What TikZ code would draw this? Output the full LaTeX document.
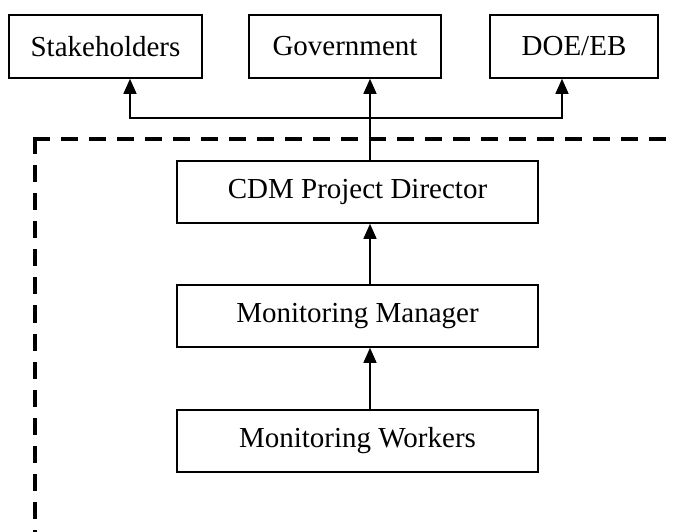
\documentclass[tikz,border=0pt]{standalone}
\usepackage{fontspec}
\setmainfont{Liberation Serif}
\usepackage{tikz}
\usetikzlibrary{arrows.meta, positioning}

\begin{document}
\begin{tikzpicture}[x=1pt, y=-1pt,
  box/.style={draw, line width=1.6pt, inner sep=0pt, font=\fontsize{29}{34}\selectfont},
  arr/.style={line width=1.3pt, -{Triangle[width=13pt,length=15pt]}},
  frame/.style={line width=4pt, line cap=rect, dash pattern=on 13pt off 15pt}]
\useasboundingbox (0,0) rectangle (673,532);

\draw[frame] (34.5,139.5) -- (675,139.5);
\draw[frame] (34.5,139.5) -- (34.5,534);

\node[box, minimum width=193pt, minimum height=63pt] (stake) at (105.5,46.5) {Stakeholders};
\node[box, minimum width=192pt, minimum height=63pt] (gov) at (345,46.5) {Government};
\node[box, minimum width=168pt, minimum height=63pt] (doe) at (574,46.5) {DOE/EB};

\node[box, minimum width=361pt, minimum height=62pt] (director) at (357.5,192) {CDM Project Director};
\node[box, minimum width=361pt, minimum height=62pt] (manager) at (357.5,316) {Monitoring Manager};
\node[box, minimum width=361pt, minimum height=62pt] (workers) at (357.5,441) {Monitoring Workers};

\coordinate (spine) at (370,118);
\coordinate (left) at (130,118);
\coordinate (right) at (562,118);

\draw[arr] (director.north -| spine) -- (gov.south -| spine);
\draw[arr] (right) -- (left) -- (stake.south -| left);
\draw[arr] (left) -- (right) -- (doe.south -| right);
\draw[arr] (manager.north -| spine) -- (director.south -| spine);
\draw[arr] (workers.north -| spine) -- (manager.south -| spine);
\end{tikzpicture}
\end{document}
